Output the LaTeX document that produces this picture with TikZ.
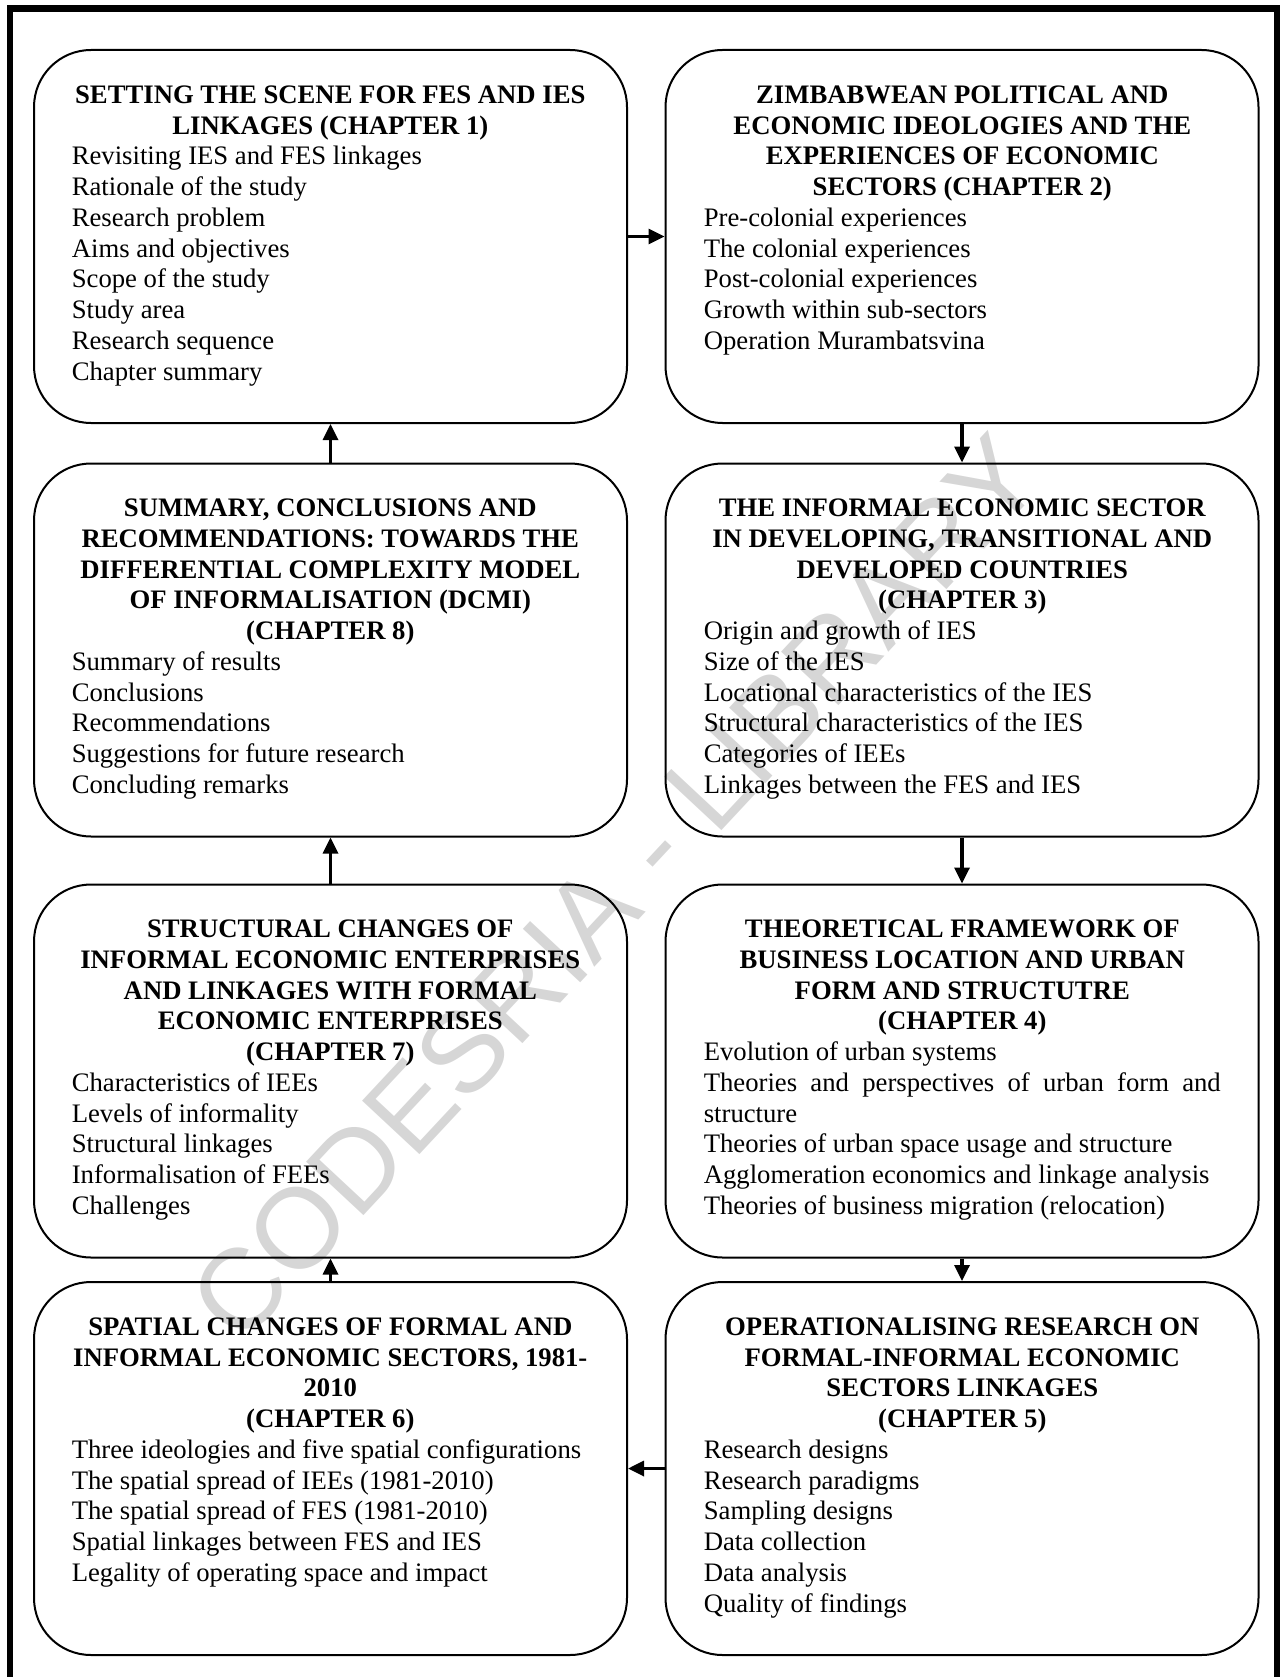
\documentclass[tikz,border=0pt]{standalone}
\usepackage{fontspec}
\setmainfont{Liberation Serif}
\newfontfamily\wmfont{Liberation Sans}
\usetikzlibrary{arrows.meta}

% One chapter block: centred bold title, then left-aligned topic lines
\newcommand\chapterblock[2]{%
  \begin{minipage}[t]{517pt}%
    \fontsize{26.7pt}{30.75pt}\selectfont
    {\centering\bfseries #1\par}%
    #2%
  \end{minipage}}

\tikzset{
  chbox/.style={draw, line width=2pt, rounded corners=57pt,
    minimum width=593pt, minimum height=373pt, inner sep=0pt},
  chtext/.style={anchor=base west, inner sep=0pt},
  arr/.style={line width=3.3pt, -{Triangle[length=16pt,width=15pt]}},
  wm/.style={inner sep=0pt, text=black!16, rotate=47,
    font=\wmfont\fontsize{114pt}{114pt}\selectfont},
  frame/.style={line width=6.5pt}
}

\begin{document}
\begin{tikzpicture}[x=1pt,y=-1pt]
\useasboundingbox (0,0) rectangle (1280,1677);

% watermark behind everything
\node[wm] (wm) at (615,888) {CODESRIA - LIBRARY};

% outer frame (open at the bottom)
\draw[frame] (10,1700) -- (10,8.5) -- (1277,8.5) -- (1277,1700);

% chapter boxes
\node[chbox] (b1) at (330.5,236.5) {};
\node[chbox] (b2) at (962,236.5) {};
\node[chbox] (b8) at (330.5,650) {};
\node[chbox] (b3) at (962,650) {};
\node[chbox] (b7) at (330.5,1071) {};
\node[chbox] (b4) at (962,1071) {};
\node[chbox] (b6) at (330.5,1468.5) {};
\node[chbox] (b5) at (962,1468.5) {};

% chapter texts
\node[chtext] (t1) at (71.6,103.3) {\chapterblock{SETTING THE SCENE FOR FES AND IES\\ LINKAGES (CHAPTER 1)}{%
Revisiting IES and FES linkages\\ Rationale of the study\\ Research problem\\ Aims and objectives\\ Scope of the study\\ Study area\\ Research sequence\\ Chapter summary}};

\node[chtext] (t2) at (703.6,103.3) {\chapterblock{ZIMBABWEAN POLITICAL AND\\ ECONOMIC IDEOLOGIES AND THE\\ EXPERIENCES OF ECONOMIC\\ SECTORS (CHAPTER 2)}{%
Pre-colonial experiences\\ The colonial experiences\\ Post-colonial experiences\\ Growth within sub-sectors\\ Operation Murambatsvina}};

\node[chtext] (t8) at (71.6,516.5) {\chapterblock{SUMMARY, CONCLUSIONS AND\\ RECOMMENDATIONS: TOWARDS THE\\ DIFFERENTIAL COMPLEXITY MODEL\\ OF INFORMALISATION (DCMI)\\ (CHAPTER 8)}{%
Summary of results\\ Conclusions\\ Recommendations\\ Suggestions for future research\\ Concluding remarks}};

\node[chtext] (t3) at (703.6,516.5) {\chapterblock{THE INFORMAL ECONOMIC SECTOR\\ IN DEVELOPING, TRANSITIONAL AND\\ DEVELOPED COUNTRIES\\ (CHAPTER 3)}{%
Origin and growth of IES\\ Size of the IES\\ Locational characteristics of the IES\\ Structural characteristics of the IES\\ Categories of IEEs\\ Linkages between the FES and IES}};

\node[chtext] (t7) at (71.6,937.5) {\chapterblock{STRUCTURAL CHANGES OF\\ INFORMAL ECONOMIC ENTERPRISES\\ AND LINKAGES WITH FORMAL\\ ECONOMIC ENTERPRISES\\ (CHAPTER 7)}{%
Characteristics of IEEs\\ Levels of informality\\ Structural linkages\\ Informalisation of FEEs\\ Challenges}};

\node[chtext] (t4) at (703.6,937.5) {\chapterblock{THEORETICAL FRAMEWORK OF\\ BUSINESS LOCATION AND URBAN\\ FORM AND STRUCTUTRE\\ (CHAPTER 4)}{%
Evolution of urban systems\\ \makebox[\linewidth][s]{Theories and perspectives of urban form and}\\ structure\\ Theories of urban space usage and structure\\ Agglomeration economics and linkage analysis\\ Theories of business migration (relocation)}};

\node[chtext] (t6) at (71.6,1335.3) {\chapterblock{SPATIAL CHANGES OF FORMAL AND\\ INFORMAL ECONOMIC SECTORS, 1981-\\ 2010\\ (CHAPTER 6)}{%
Three ideologies and five spatial configurations\\ The spatial spread of IEEs (1981-2010)\\ The spatial spread of FES (1981-2010)\\ Spatial linkages between FES and IES\\ Legality of operating space and impact}};

\node[chtext] (t5) at (703.6,1335.3) {\chapterblock{OPERATIONALISING RESEARCH ON\\ FORMAL-INFORMAL ECONOMIC\\ SECTORS LINKAGES\\ (CHAPTER 5)}{%
Research designs\\ Research paradigms\\ Sampling designs\\ Data collection\\ Data analysis\\ Quality of findings}};

% reading order of the chapters
\draw[arr] (b1) -- (b2);
\draw[arr] (b2) -- (b3);
\draw[arr] (b3) -- (b4);
\draw[arr] (b4) -- (b5);
\draw[arr] (b5) -- (b6);
\draw[arr] (b6) -- (b7);
\draw[arr] (b7) -- (b8);
\draw[arr] (b8) -- (b1);
\end{tikzpicture}
\end{document}
